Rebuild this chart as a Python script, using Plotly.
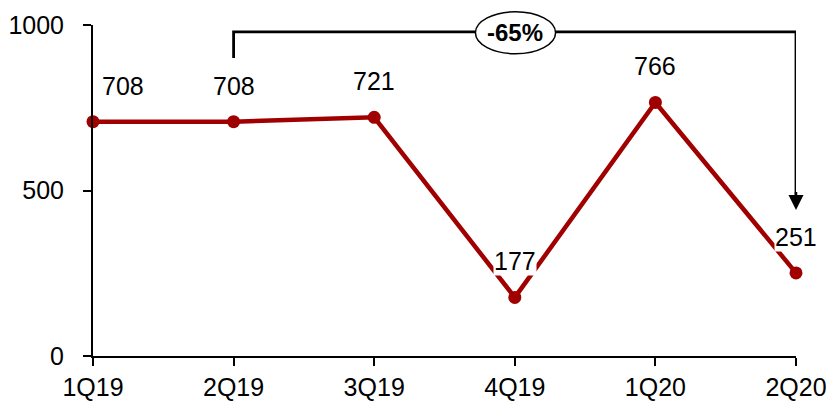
import plotly.graph_objects as go

quarters = ["1Q19", "2Q19", "3Q19", "4Q19", "1Q20", "2Q20"]
values = [708, 708, 721, 177, 766, 251]
label_xshift = [30, 0, 0, 0, 0, 0]
y_ticks = [0, 500, 1000]
change_label = "-65%"

RED = "#A00000"
FONT = "Liberation Sans, Arial"
xs = list(range(len(quarters)))

fig = go.Figure()
fig.add_trace(go.Scatter(
    x=xs, y=values, mode="lines+markers",
    line=dict(color=RED, width=4.5),
    marker=dict(color=RED, size=13),
    cliponaxis=False, hoverinfo="skip", showlegend=False,
))

for x, v, dx in zip(xs, values, label_xshift):
    fig.add_annotation(x=x, y=v, text=str(v), showarrow=False, yshift=36, xshift=dx,
                       yanchor="middle", bgcolor="white", borderpad=0,
                       font=dict(family=FONT, size=25, color="black"))

# bracket
fig.add_shape(type="path", xref="x", yref="y",
              path="M 1 900 L 1 979 L 5 979 L 5 480",
              line=dict(color="black", width=2.8))
fig.add_annotation(x=5, y=441, ax=5, ay=500, axref="x", ayref="y", xref="x", yref="y",
                   showarrow=True, arrowhead=2, arrowsize=1.2, arrowwidth=2.5,
                   arrowcolor="black", text="")
fig.add_shape(type="circle", xref="x", yref="paper", x0=2.72, x1=3.29, y0=0.913, y1=1.04,
              fillcolor="white", line=dict(color="black", width=1.5), layer="above")
fig.add_annotation(x=3.0, y=0.977, xref="x", yref="paper", text="<b>" + change_label + "</b>",
                   xanchor="center", yanchor="middle", showarrow=False,
                   font=dict(family=FONT, size=24, color="black"))

fig.update_xaxes(range=[0, 5], tickvals=xs, ticktext=quarters, showgrid=False, zeroline=False,
                 showline=True, linecolor="black", linewidth=2, ticks="outside", ticklen=8,
                 tickwidth=2, tickcolor="black", automargin=False,
                 tickfont=dict(family=FONT, size=25, color="black"))
fig.update_yaxes(range=[0, 1000], tickvals=y_ticks, showgrid=False, zeroline=False,
                 showline=True, linecolor="black", linewidth=2, ticks="outside", ticklen=8,
                 tickwidth=2, tickcolor="black", ticklabelstandoff=14, automargin=False,
                 tickfont=dict(family=FONT, size=25, color="black"))
fig.update_layout(width=827, height=410, margin=dict(l=93, r=31, t=25, b=54),
                  plot_bgcolor="white", paper_bgcolor="white")
fig.write_html("out.html", config={"displayModeBar": False},
               post_script="document.body.style.margin='0';")
